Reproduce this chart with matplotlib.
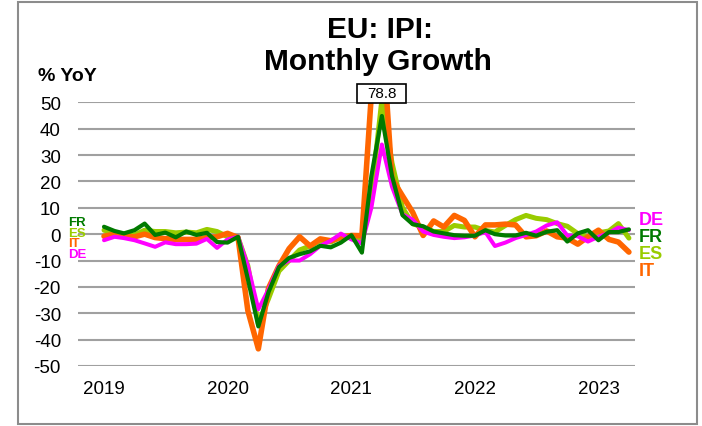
import matplotlib
matplotlib.use("Agg")
import matplotlib.pyplot as plt
import matplotlib.dates as mdates
from matplotlib.patches import Rectangle
import pandas as pd

plt.rcParams["font.family"] = ["Liberation Sans", "DejaVu Sans"]

# Monthly observations, Jan 2019 - Apr 2023 (% YoY)
months = pd.date_range("2019-01-01", "2023-04-01", freq="MS")

de = [-2.3, -1.0, -1.5, -2.3, -3.5, -4.8, -3.1, -3.8, -3.8, -3.6, -1.8, -5.2,
      -2.0, -1.0, -12.0, -28.5, -21.0, -12.0, -10.0, -10.0, -7.6, -4.4, -2.5, 0.2,
      -2.0, -3.5, 10.0, 34.0, 18.0, 7.5, 5.5, 1.0, -0.3, -1.0, -1.5, -1.2,
      -0.5, 0.8, -4.5, -3.2, -1.5, -0.3, 1.0, 3.3, 4.5, -0.5, -0.8, -2.8,
      -1.0, 0.5, 2.5, 1.5]

fr = [2.8, 1.2, 0.3, 1.5, 4.0, -0.3, 0.6, -1.2, 1.0, -0.3, 0.5, -3.0,
      -3.2, -1.0, -17.0, -35.0, -22.0, -12.5, -9.0, -7.6, -6.5, -4.4, -5.0, -3.2,
      -0.4, -7.0, 22.0, 44.8, 22.0, 7.2, 3.8, 3.0, 1.0, 0.3, -0.4, -0.6,
      -0.6, 1.5, 0.0, -0.5, -0.5, 0.5, -0.6, 0.9, 1.5, -2.8, 0.3, 1.5,
      -2.3, 0.8, 0.8, 1.8]

es = [1.5, 0.5, 0.0, -0.3, 1.5, 1.0, 1.0, 0.5, 0.8, 0.5, 1.8, 1.0,
      -1.0, -1.3, -12.0, -34.0, -24.5, -14.0, -10.0, -6.0, -4.5, -2.5, -3.0, -1.0,
      -0.5, -2.0, 15.0, 51.0, 27.0, 10.0, 4.0, 2.5, 1.0, 1.0, 3.3, 2.7,
      2.7, 1.4, 0.8, 3.3, 5.5, 7.1, 6.0, 5.5, 4.0, 3.0, 0.2, -1.0,
      0.5, 1.2, 4.0, -1.5]

it = [-0.8, 0.0, -0.8, -1.0, 0.0, -1.3, -1.7, -2.0, -2.0, -2.0, -1.3, -1.0,
      0.3, -1.3, -29.0, -43.5, -20.5, -12.0, -5.5, -1.0, -4.5, -1.8, -2.5, -1.3,
      -0.5, -0.6, 53.0, 78.8, 21.0, 14.5, 8.3, -0.5, 5.0, 2.7, 7.1, 5.2,
      -1.0, 3.5, 3.5, 3.8, 3.5, -1.0, -0.6, 1.2, -1.0, -1.5, -3.8, -1.0,
      1.5, -2.0, -3.0, -6.8]

countries = ["DE", "FR", "ES", "IT"]
colors = {"DE": "#FF00FF", "FR": "#007A00", "ES": "#99CC00", "IT": "#FF6600"}
widths = {"DE": 2.9, "FR": 3.0, "ES": 3.6, "IT": 4.0}
series = {"DE": de, "FR": fr, "ES": es, "IT": it}
y_ticks = list(range(-50, 51, 10))
year_ticks = ["2019", "2020", "2021", "2022", "2023"]

W, H = 702, 427
fig = plt.figure(figsize=(W / 100, H / 100), dpi=100)
fig.patch.set_facecolor("white")


def fx(px):
    return px / W


def fy(py):
    return 1 - py / H


ax_l, ax_r, ax_t, ax_b = 78.3, 635.0, 103.3, 367.0
ax = fig.add_axes([fx(ax_l), fy(ax_b), (ax_r - ax_l) / W, (ax_b - ax_t) / H])

# Outer frame
fig.patches.append(Rectangle((fx(17.5), fy(425)), (697 - 17.5) / W, (425 - 2.5) / H,
                             transform=fig.transFigure, fill=False,
                             edgecolor="#8C8C8C", lw=1.5, zorder=0))

# Lines (ES/IT below, FR on top)
for c in ["ES", "IT", "DE", "FR"]:
    ax.plot(months, series[c], color=colors[c], lw=widths[c],
            solid_joinstyle="round", solid_capstyle="round", zorder=3)

ax.set_ylim(-50, 50)
ax.set_xlim(pd.Timestamp("2018-10-17"), pd.Timestamp("2023-04-19"))
ax.set_yticks(y_ticks)
ax.set_yticklabels([str(v) for v in y_ticks])
ax.yaxis.grid(True, color="#A0A0A0", lw=1.5, zorder=1)
ax.set_axisbelow(True)
ax.set_xticks([pd.Timestamp(f"{y}-01-01") for y in year_ticks])
ax.set_xticklabels(year_ticks)
ax.tick_params(axis="both", length=0, labelsize=13.5, colors="black")
ax.tick_params(axis="y", pad=12.5)
ax.tick_params(axis="x", pad=10)
for s in ax.spines.values():
    s.set_visible(False)

# Title and unit label
fig.text(fx(380), fy(37.5), "EU: IPI:", ha="center", va="baseline",
         fontsize=21.5, fontweight="bold")
fig.text(fx(378), fy(70.5), "Monthly Growth", ha="center", va="baseline",
         fontsize=21.5, fontweight="bold")
fig.text(fx(38), fy(81), "% YoY", ha="left", va="baseline",
         fontsize=14, fontweight="bold")

# Left-side labels
for c, yb in [("FR", 226), ("ES", 237), ("IT", 247.5), ("DE", 258.5)]:
    fig.text(fx(68), fy(yb), c, ha="left", va="baseline", fontsize=9.5,
             fontweight="bold", color=colors[c])

# Right-side labels
for c, yb in [("DE", 225), ("FR", 242.5), ("ES", 259), ("IT", 275.5)]:
    fig.text(fx(639), fy(yb), c, ha="left", va="baseline", fontsize=13,
             fontweight="bold", color=colors[c])

# Peak value callout for IT, placed above the clipped top
peak_i = max(range(len(it)), key=lambda k: it[k])
px, py = ax.transData.transform((mdates.date2num(months[peak_i]), 50))
py = H - py
cx, cy = px, py - 8.8
bw, bh = 49, 19
fig.patches.append(Rectangle((fx(cx - bw / 2), fy(cy + bh / 2)), bw / W, bh / H,
                             transform=fig.transFigure, facecolor="white",
                             edgecolor="black", lw=1.2, zorder=5))
fig.text(fx(cx), fy(cy), f"{it[peak_i]:.1f}", ha="center", va="center",
         fontsize=11, zorder=6)

fig.savefig("out.png", dpi=100, facecolor="white")
